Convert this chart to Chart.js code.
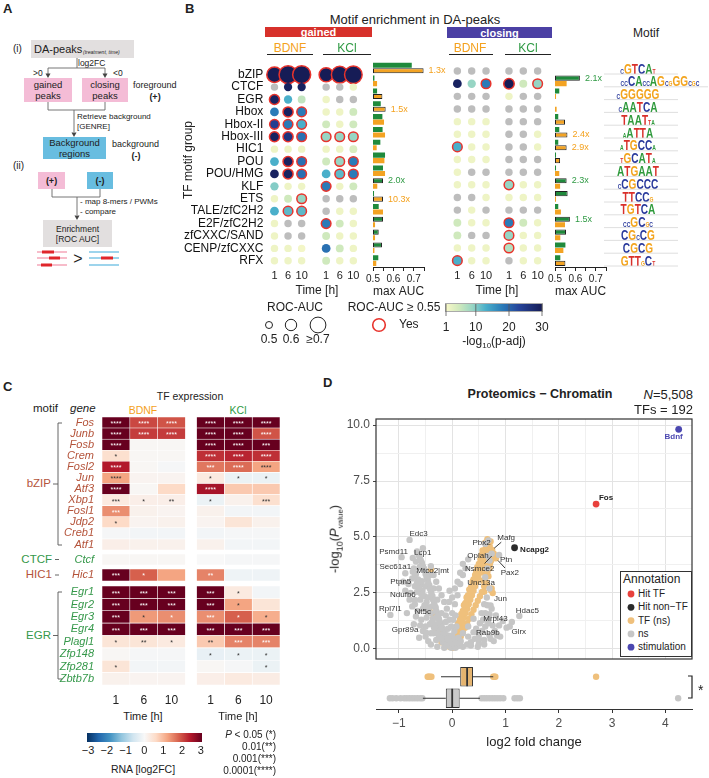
<!DOCTYPE html>
<html>
<head>
<meta charset="utf-8">
<title>Motif enrichment, TF expression and chromatin proteomics</title>
<script src="https://cdn.jsdelivr.net/npm/chart.js@4.4.1/dist/chart.umd.min.js"></script>
<style>
  body { margin: 0; background: #fff; }
  #fig { position: relative; width: 709px; height: 778px; overflow: hidden;
         font-family: "Liberation Sans", Arial, sans-serif; color: #222; }
  #fig canvas { position: absolute; }
  .t { position: absolute; white-space: nowrap; line-height: 1; }
  .rect { position: absolute; }
  .logo { position: absolute; display: flex; align-items: flex-end; font-weight: bold;
          transform-origin: 50% 100%; transform: translate(-50%, -100%) scale(0.72, 1.1); }
  .logo span { display: block; line-height: 0.74; }
  #lines { position: absolute; left: 0; top: 0; pointer-events: none; }
</style>
</head>
<body>
<div id="fig"></div>
<script>
// ---------- B: motif enrichment in DA-peaks ----------
const motifGroups = ["bZIP", "CTCF", "EGR", "Hbox", "Hbox-II", "Hbox-III", "HIC1", "POU",
  "POU/HMG", "KLF", "ETS", "TALE/zfC2H2", "E2F/zfC2H2", "zfCXXC/SAND", "CENP/zfCXXC", "RFX"];
const timeLabels = ["1", "6", "10"];

// -log10(p-adj), columns BDNF 1/6/10 h then KCl 1/6/10 h (0 = not significant)
const gainedP = [
  [30, 30, 30, 30, 30, 30], [0, 29, 29, 0, 0, 2], [29, 13, 6, 2, 0, 0], [18, 29, 18, 2, 2, 5],
  [24, 18, 13, 5, 2, 5], [29, 26, 19, 9, 9, 9], [2, 2, 2, 2, 2, 4], [13, 29, 19, 5, 9, 18],
  [29, 29, 19, 13, 12, 18], [10, 2, 2, 18, 2, 5], [2, 5, 9, 0, 0, 0], [13, 12, 12, 0, 2, 2],
  [2, 0, 0, 18, 5, 2], [2, 0, 0, 5, 2, 2], [2, 2, 1.5, 19, 5, 2], [2, 2, 2, 5, 2, 2]
];
const gainedAuc = [
  [0.69, 0.75, 0.75, 0.66, 0.72, 0.74], [0.51, 0.53, 0.53, 0.51, 0.51, 0.51],
  [0.57, 0.53, 0.52, 0.51, 0.51, 0.51], [0.54, 0.57, 0.56, 0.51, 0.51, 0.52],
  [0.56, 0.56, 0.56, 0.52, 0.51, 0.52], [0.57, 0.57, 0.56, 0.56, 0.56, 0.56],
  [0.51, 0.51, 0.51, 0.51, 0.51, 0.52], [0.54, 0.57, 0.56, 0.52, 0.56, 0.56],
  [0.54, 0.57, 0.56, 0.54, 0.56, 0.56], [0.53, 0.51, 0.51, 0.56, 0.51, 0.52],
  [0.51, 0.52, 0.56, 0.51, 0.51, 0.51], [0.54, 0.56, 0.56, 0.51, 0.51, 0.51],
  [0.51, 0.51, 0.51, 0.56, 0.52, 0.51], [0.51, 0.51, 0.51, 0.52, 0.51, 0.51],
  [0.51, 0.51, 0.51, 0.54, 0.52, 0.51], [0.51, 0.51, 0.51, 0.52, 0.51, 0.51]
];
const closingP = [
  [0, 0, 0, 0, 0, 0], [29, 9, 18, 30, 5, 9], [0, 0, 0, 2, 0, 0], [0, 0, 0, 0, 0, 0],
  [2, 2, 2, 0, 0, 0], [2, 2, 2, 0, 0, 2], [13, 2, 2, 0, 0, 2], [2, 2, 2, 0, 0, 0],
  [2, 0, 0, 0, 0, 0], [2, 2, 2, 9, 2, 2], [0, 0, 2, 2, 2, 2], [0, 2, 0, 0, 0, 0],
  [5, 2, 2, 18, 5, 2], [5, 0, 0, 9, 2, 2], [2, 2, 2, 7, 2, 2], [13, 2, 2, 0, 2, 2]
];
const closingAuc = [
  [0.51, 0.51, 0.51, 0.51, 0.51, 0.51], [0.54, 0.53, 0.56, 0.58, 0.52, 0.56],
  [0.51, 0.51, 0.51, 0.51, 0.51, 0.51], [0.51, 0.51, 0.51, 0.51, 0.51, 0.51],
  [0.51, 0.51, 0.51, 0.51, 0.51, 0.51], [0.51, 0.51, 0.51, 0.51, 0.51, 0.51],
  [0.56, 0.51, 0.51, 0.51, 0.51, 0.51], [0.51, 0.51, 0.51, 0.51, 0.51, 0.51],
  [0.51, 0.51, 0.51, 0.51, 0.51, 0.51], [0.51, 0.51, 0.51, 0.56, 0.51, 0.51],
  [0.51, 0.51, 0.51, 0.51, 0.51, 0.51], [0.51, 0.51, 0.51, 0.51, 0.51, 0.51],
  [0.52, 0.51, 0.51, 0.56, 0.52, 0.51], [0.52, 0.51, 0.51, 0.56, 0.51, 0.51],
  [0.51, 0.51, 0.51, 0.56, 0.51, 0.51], [0.56, 0.51, 0.51, 0.51, 0.51, 0.51]
];
// max AUC per motif group
const gainedMaxKcl = [0.69, 0.507, 0.52, 0.538, 0.546, 0.547, 0.536, 0.559, 0.549, 0.549, 0.505, 0.528, 0.549, 0.528, 0.544, 0.526];
const gainedMaxBdnf = [0.748, 0.52, 0.546, 0.562, 0.554, 0.559, 0.518, 0.556, 0.559, 0.521, 0.549, 0.549, 0.51, 0.51, 0.507, 0.516];
const closingMaxKcl = [0.5, 0.622, 0.521, 0.5, 0.516, 0.521, 0.516, 0.505, 0.505, 0.557, 0.562, 0.516, 0.573, 0.554, 0.551, 0.526];
const closingMaxBdnf = [0.5, 0.557, 0.505, 0.508, 0.549, 0.561, 0.557, 0.525, 0.521, 0.525, 0.505, 0.529, 0.549, 0.526, 0.541, 0.551];
const gainedBoxedKcl = ["KLF", "E2F/zfC2H2", "zfCXXC/SAND", "CENP/zfCXXC"];
const gainedBoxedBdnf = ["bZIP", "EGR", "Hbox", "ETS"];
const closingBoxedKcl = ["CTCF", "KLF", "ETS", "E2F/zfC2H2", "zfCXXC/SAND"];
const closingBoxedBdnf = ["Hbox-II", "Hbox-III", "HIC1", "POU", "RFX"];
const gainedFold = [["bZIP", "BDNF", "1.3x"], ["Hbox", "BDNF", "1.5x"], ["KLF", "KCl", "2.0x"], ["ETS", "BDNF", "10.3x"]];
const closingFold = [["CTCF", "KCl", "2.1x"], ["Hbox-III", "BDNF", "2.4x"], ["HIC1", "BDNF", "2.9x"], ["KLF", "KCl", "2.3x"], ["E2F/zfC2H2", "KCl", "1.5x"]];
const motifLogos = ["cGTCAt", "ccCAccAGcgGGcgc", "cGGGGG", "cAATCA", "TAATta", "aATTA", "aTGCCa", "tGCATa",
  "ATGAAT", "cCGCCC", "TTCCg", "TGTCA", "ccGCgc", "CGcCG", "CGCG", "GTTgCt"];

// ---------- C: TF expression (RNA log2FC), BDNF 1/6/10 h then KCl 1/6/10 h ----------
const bzipGenes = ["Fos", "Junb", "Fosb", "Crem", "Fosl2", "Jun", "Atf3", "Xbp1", "Fosl1", "Jdp2", "Creb1", "Atf1"];
const bzipFC = [
  [3, 2.0, 1.9, 3, 3, 3], [3, 2.1, 2.1, 3, 3, 1.9], [3, 0.05, 0.05, 3, 3, 3], [0.5, 0.05, 0.05, 2.2, 2.3, 2.2],
  [2.4, 0.05, -0.05, 1.6, 1.7, 1.2], [1.2, 0.1, 0.1, 0.3, -0.2, -0.2], [3, 0.05, 0.6, 2.5, 0.8, 0.8],
  [0.3, 0.2, 0.2, -0.2, 0.15, 0.5], [1.4, 0.15, 0.1, 0.15, -0.1, -0.1], [0.6, 0.1, 0.15, 0.1, 0.4, 0.15],
  [-0.05, -0.1, -0.1, -0.1, -0.05, -0.05], [0.2, 0.15, 0.15, 0.15, -0.1, -0.1]
];
const bzipStars = [
  [4, 4, 4, 4, 4, 4], [4, 4, 4, 4, 4, 4], [4, 0, 0, 4, 4, 3], [1, 0, 0, 4, 4, 4], [4, 0, 0, 3, 4, 4], [4, 0, 0, 1, 1, 1],
  [4, 0, 0, 4, 0, 0], [3, 1, 2, 1, 0, 3], [3, 0, 0, 0, 0, 0], [1, 0, 0, 0, 0, 0], [0, 0, 0, 0, 0, 0], [0, 0, 0, 0, 0, 0]
];
const ctcfGenes = ["Ctcf"];
const ctcfFC = [[0.05, 0.05, 0.05, 0, -0.05, -0.05]];
const ctcfStars = [[0, 0, 0, 0, 0, 0]];
const hic1Genes = ["Hic1"];
const hic1FC = [[3, 1.8, 1.2, 1.5, -0.15, -0.15]];
const hic1Stars = [[3, 1, 0, 2, 0, 0]];
const egrGenes = ["Egr1", "Egr2", "Egr3", "Egr4", "Plagl1", "Zfp148", "Zfp281", "Zbtb7b"];
const egrFC = [
  [3, 3, 3, 3, 0.3, -0.1], [3, 3, 3, 3, 1.2, 0.4], [3, 1.3, 1.4, 1.4, 1.8, 1.1], [3, 3, 3, 3, 3, 3],
  [0.4, 0.4, 0.3, 0.8, 1.5, 1.5], [0.05, -0.05, -0.05, -0.25, -0.2, -0.2], [0.4, -0.1, -0.1, 0.05, -0.05, -0.2],
  [0.15, 0.1, 0.1, 0.2, 0.3, 0.25]
];
const egrStars = [
  [3, 3, 3, 3, 1, 0], [3, 3, 3, 3, 1, 0], [3, 1, 1, 3, 1, 1], [3, 3, 3, 3, 3, 3],
  [1, 2, 1, 2, 3, 3], [0, 0, 0, 1, 1, 1], [1, 0, 0, 0, 0, 1], [0, 0, 0, 0, 0, 0]
];

// ---------- D: proteomics, chromatin (log2FC, -log10 P) ----------
const nsPoints = [
  [-0.02, 0.05], [-0.06, 0.2], [-0.1, 0.35], [-0.13, 0.55], [-0.16, 0.75], [-0.19, 0.95], [-0.22, 1.15],
  [-0.25, 1.35], [-0.28, 1.6], [-0.31, 1.85], [-0.34, 2.1], [-0.37, 2.35], [-0.4, 2.6], [-0.43, 2.85],
  [-0.46, 3.1], [-0.5, 3.35], [-0.53, 3.6], [-0.57, 3.85], [-0.61, 4.1], [-0.66, 4.35],
  [-0.1, 0.15], [-0.16, 0.4], [-0.22, 0.65], [-0.27, 0.9], [-0.32, 1.1], [-0.36, 1.35], [-0.4, 1.6],
  [-0.44, 1.85], [-0.48, 2.1], [-0.52, 2.35], [-0.56, 2.6], [-0.6, 2.85], [-0.64, 3.1], [-0.68, 3.35], [-0.72, 3.6],
  [-0.3, 0.4], [-0.4, 0.7], [-0.5, 1.0], [-0.58, 1.3], [-0.65, 1.7], [-0.7, 2.0], [-0.78, 2.5], [-0.82, 2.9],
  [-0.62, 0.5], [-0.72, 1.1], [-0.85, 1.6], [-0.45, 0.35], [-0.55, 0.8],
  [-0.05, 0.3], [-0.08, 0.6], [-0.18, 0.3], [-0.25, 0.55], [-0.35, 0.7], [-0.42, 1.1], [-0.48, 1.4],
  [-0.55, 1.8], [-0.6, 2.2], [-0.66, 2.55], [-0.7, 2.8], [-0.75, 3.15], [-0.68, 3.9], [-0.55, 4.5],
  [-0.5, 2.8], [-0.45, 2.3], [-0.38, 1.9], [-0.3, 1.4], [-0.2, 1.6], [-0.12, 1.5], [-0.28, 2.2],
  [-0.35, 2.7], [-0.42, 3.3],
  [-0.04, 0.12], [-0.09, 0.45], [-0.14, 0.7], [-0.18, 0.9], [-0.21, 1.05], [-0.24, 1.25], [-0.27, 1.45],
  [-0.3, 1.7], [-0.33, 1.95], [-0.36, 2.2], [-0.39, 2.45], [-0.42, 2.7], [-0.45, 2.95], [-0.48, 3.2],
  [-0.51, 3.5], [-0.55, 3.7], [-0.59, 3.95], [-0.63, 4.2], [-0.2, 0.45], [-0.28, 0.7], [-0.34, 0.95],
  [-0.38, 1.2], [-0.46, 1.65], [-0.52, 1.95], [-0.58, 2.45], [-0.62, 2.7], [-0.66, 2.95], [-0.7, 3.25],
  [-0.74, 3.45], [-0.5, 0.55], [-0.6, 1.05], [-0.68, 1.45], [-0.75, 1.9], [-0.8, 2.2], [-0.88, 2.6],
  [-0.92, 3.0], [-0.4, 0.2], [-0.28, 0.1], [-0.15, 0.05],
  [0.02, 0.15], [0.06, 0.05], [0.1, 0.12], [0.14, 0.25], [-0.04, 0.4], [0.0, 0.6], [0.04, 0.8], [0.08, 1.0],
  [-0.08, 0.9], [-0.12, 1.2], [-0.05, 1.3], [0.0, 1.6], [-0.1, 1.8], [-0.15, 2.1], [-0.2, 2.4], [-0.25, 2.7],
  [0.05, 2.0], [0.1, 2.4], [-0.05, 2.6], [-0.3, 3.0], [-0.35, 3.3], [0.15, 2.9], [0.2, 3.3], [-0.4, 3.7],
  [0.25, 3.6], [0.3, 4.0],
  [0.0, 0.25], [0.04, 0.45], [0.08, 0.3], [0.12, 0.5], [0.16, 0.35], [-0.02, 1.0], [0.02, 1.3], [0.06, 1.5],
  [-0.06, 2.1], [0.0, 2.3], [0.05, 2.7], [0.1, 3.0], [0.15, 3.4], [0.2, 3.8],
  [0.2, 0.1], [0.28, 0.2], [0.35, 0.3], [0.42, 0.45], [0.5, 0.6], [0.56, 0.8], [0.62, 1.0], [0.66, 1.3],
  [0.7, 1.55], [0.74, 1.8], [0.5, 0.25], [0.6, 0.4], [0.7, 0.6], [0.8, 0.8], [0.88, 1.05], [0.95, 1.25],
  [1.02, 0.95], [1.12, 1.2], [0.9, 0.55], [0.78, 0.35], [0.55, 1.6], [0.6, 2.0], [0.65, 2.3], [0.7, 2.7],
  [0.62, 3.2], [0.66, 3.6], [0.7, 3.95], [0.74, 4.25], [0.62, 4.7], [0.68, 4.85],
  [0.3, 0.55], [0.4, 0.75], [0.45, 0.9], [0.52, 1.15], [0.58, 1.3], [0.62, 1.6], [0.66, 1.95], [0.4, 1.35],
  [0.3, 1.0], [0.2, 0.7], [0.35, 0.15], [0.48, 0.1], [0.6, 0.2], [0.72, 0.45], [0.84, 0.6], [0.76, 1.05], [0.82, 1.5]
];
const tfPoints = [
  [0.01, 0.05], [0.04, 0.2], [0.07, 0.4], [0.1, 0.6], [0.13, 0.8], [0.16, 1.0], [0.19, 1.2], [0.22, 1.4],
  [0.25, 1.6], [0.28, 1.8], [0.31, 2.0], [0.34, 2.2], [0.37, 2.4], [0.4, 2.6], [0.43, 2.8], [0.46, 3.0],
  [0.49, 3.2], [0.52, 3.4], [0.55, 3.6], [0.58, 3.8], [0.61, 4.0], [0.64, 4.2], [0.67, 4.4], [0.7, 4.6], [0.72, 4.8],
  [0.08, 0.15], [0.12, 0.35], [0.16, 0.55], [0.2, 0.75], [0.24, 0.95], [0.28, 1.15], [0.32, 1.35], [0.36, 1.55],
  [0.4, 1.75], [0.44, 1.95], [0.48, 2.15], [0.52, 2.35], [0.56, 2.55], [0.6, 2.8], [0.58, 3.05], [0.62, 3.35],
  [0.64, 3.7], [0.68, 4.0],
  [0.05, 0.6], [0.1, 0.95], [0.15, 1.35], [0.2, 1.7], [0.25, 2.05], [0.3, 2.4], [0.35, 2.75], [0.4, 3.1],
  [0.45, 3.45], [0.5, 3.8], [0.55, 4.2],
  [0.03, 0.35], [0.06, 0.75], [0.11, 1.15], [0.17, 1.55], [0.22, 1.95], [0.27, 2.3], [0.32, 2.65], [0.38, 3.0],
  [0.43, 3.3], [0.47, 3.65], [0.53, 4.0], [0.57, 4.4], [0.62, 4.75], [0.66, 4.9], [0.6, 2.55], [0.65, 2.9],
  [0.68, 3.25], [0.7, 3.6], [0.73, 3.95], [0.76, 4.15],
  [0.09, 0.8], [0.14, 1.2], [0.19, 1.6], [0.24, 2.0], [0.29, 2.35], [0.34, 2.6], [0.39, 2.9], [0.44, 3.2],
  [0.5, 3.55], [0.54, 3.85], [0.59, 4.2], [0.63, 4.5], [0.68, 4.75], [0.62, 3.05], [0.66, 3.45], [0.71, 3.8],
  [0.74, 4.05], [0.7, 4.3], [0.05, 0.5], [0.12, 0.2],
  [-0.05, 0.1], [-0.1, 0.5], [-0.18, 0.6], [-0.25, 1.0], [-0.3, 0.8], [-0.4, 3.55], [-0.2, 0.3],
  [-0.08, 0.25], [-0.14, 0.4], [-0.22, 0.85], [-0.35, 1.45],
  [0.76, 2.5], [0.74, 2.7]
];
// gene, log2FC, -log10 P, group
const labeledGenes = [
  ["Edc3", -0.80, 4.87, "ns"], ["Psmd11", -0.95, 4.10, "ns"], ["Lcp1", -0.74, 4.06, "ns"],
  ["Sec61a1", -0.88, 3.38, "ns"], ["Mtco2|mt", -0.61, 3.66, "ns"], ["Ptpn5", -0.57, 3.02, "ns"],
  ["Ndufb6", -0.70, 2.19, "ns"], ["Rpl7l1", -1.16, 1.52, "ns"], ["Nt5c", -0.42, 1.67, "tf"],
  ["Gpr89a", -0.49, 0.73, "ns"], ["Unc13a", 0.73, 2.62, "tf"], ["Jun", 0.72, 1.94, "ns"],
  ["Hdac5", 1.26, 1.47, "ns"], ["Mrpl43", 0.68, 1.15, "ns"], ["Rab9b", 0.50, 0.43, "ns"],
  ["Glrx", 1.08, 1.00, "ns"], ["Mafg", 0.75, 4.42, "tf"], ["Pbx2", 0.70, 4.55, "tf"],
  ["Oplah", 0.67, 4.15, "ns"], ["Ptn", 0.88, 4.20, "ns"], ["Nsmce2", 0.78, 4.25, "tf"],
  ["Pax2", 0.82, 4.05, "tf"]
];
const hitTf = ["Fos", 2.70, 6.47];
const hitNonTf = ["Ncapg2", 1.17, 4.52];
const stimulation = ["Bdnf", 4.25, 9.81];
// boxplot of log2FC: TF vs ns
const boxGroups = ["TF", "ns"];
const boxQ1 = [0.15, -0.12];
const boxMedian = [0.28, 0.0];
const boxQ3 = [0.39, 0.14];
const boxLo = [-0.21, -0.55];
const boxHi = [0.77, 0.52];
const tfOutliers = [-0.46, -0.44, -0.42, -0.39, 0.77, 0.79, 0.81, 2.7];
const nsOutliers = [-1.17, -1.12, -1.05, -0.97, -0.9, -0.85, -0.8, -0.75, -0.7, -0.65, -0.6, -0.56,
  0.55, 0.6, 0.65, 0.7, 0.75, 0.8, 0.85, 0.9, 0.96, 1.17, 1.22, 1.27, 4.24];

// ---------- styling ----------
const fig = document.getElementById('fig');
const FONT = '"Liberation Sans", Arial, sans-serif';
Chart.defaults.font.family = FONT;
Chart.defaults.color = '#222';
Chart.defaults.animation = false;
Chart.defaults.responsive = false;
Chart.defaults.events = [];
Chart.defaults.plugins.legend.display = false;
Chart.defaults.plugins.tooltip.enabled = false;

const ORANGE = '#f3a323', GREEN = '#1f8a3c', TXT_ORANGE = '#f4a11d', TXT_GREEN = '#2f9a44';
const NS_DOT = '#bdbdbd', RING = '#e8332c';
const NS_COL = '#c6c6c6', TF_COL = '#efc07c';
const GENE_BROWN = '#b4533a', GENE_GREEN = '#35984a';
// motif rows of panel B
const ROW0 = 68, ROWH = 12.8, B_TOP = 58;
const B_PAD = ROW0 - ROWH / 2 - B_TOP;
const B_AREA = ROWH * motifGroups.length;

const hex = h => [1, 3, 5].map(i => parseInt(h.slice(i, i + 2), 16));
const rgbStr = c => `rgb(${c.map(Math.round).join(',')})`;
function ramp(stops, v) {
  if (v <= stops[0][0]) return rgbStr(stops[0][1]);
  for (let i = 1; i < stops.length; i++) {
    const [v1, c1] = stops[i];
    if (v <= v1) {
      const [v0, c0] = stops[i - 1];
      const t = (v - v0) / (v1 - v0);
      return rgbStr(c0.map((a, k) => a + (c1[k] - a) * t));
    }
  }
  return rgbStr(stops[stops.length - 1][1]);
}
const ylgnbuStops = [[1, '#f8f8c8'], [5, '#cfe9bd'], [9, '#97d5c4'], [13, '#4aafca'], [18, '#2a7bb8'],
  [23, '#26449a'], [30, '#161c56']].map(([v, h]) => [v, hex(h)]);
const rdbuStops = [[-3, '#053061'], [-2.4, '#2166ac'], [-1.8, '#4393c3'], [-1.2, '#92c5de'], [-0.6, '#d1e5f0'],
  [0, '#f8f8f8'], [0.6, '#fddbc7'], [1.2, '#f4a582'], [1.8, '#d6604d'], [2.4, '#b2182b'], [3, '#67001f']]
  .map(([v, h]) => [v, hex(h)]);
const aucRadius = a => 3.5 + (Math.min(a, 0.75) - 0.5) * 22;

function makeCanvas(left, top, w, h) {
  const c = document.createElement('canvas');
  c.width = w; c.height = h;
  c.style.left = left + 'px'; c.style.top = top + 'px';
  fig.appendChild(c);
  return c;
}
function txt(html, x, y, size, opt = {}) {
  const d = document.createElement('div');
  d.className = 't';
  d.innerHTML = html;
  d.style.fontSize = size + 'px';
  d.style.left = x + 'px';
  if (opt.rotate) {
    d.style.top = y + 'px';
    d.style.transform = 'translate(-50%, -50%) rotate(-90deg)';
  } else {
    d.style.top = (y - size / 2) + 'px';
    const tx = opt.align === 'center' ? '-50%' : opt.align === 'right' ? '-100%' : '0';
    d.style.transform = `translateX(${tx})`;
  }
  if (opt.color) d.style.color = opt.color;
  if (opt.bold) d.style.fontWeight = 'bold';
  if (opt.italic) d.style.fontStyle = 'italic';
  fig.appendChild(d);
  return d;
}
function rect(x, y, w, h, bg, extra = '') {
  const d = document.createElement('div');
  d.className = 'rect';
  d.style.cssText += `left:${x}px;top:${y}px;width:${w}px;height:${h}px;background:${bg};${extra}`;
  fig.appendChild(d);
  return d;
}
const svgParts = [];
const path = (d, stroke = '#666', w = 0.9) => svgParts.push(`<path d="${d}" fill="none" stroke="${stroke}" stroke-width="${w}"/>`);
const arrow = (x, y) => svgParts.push(`<polygon points="${x - 2.5},${y - 4.5} ${x + 2.5},${y - 4.5} ${x},${y}" fill="#444"/>`);
const circ = (cx, cy, r, fill, stroke = 'none', w = 0) =>
  svgParts.push(`<circle cx="${cx}" cy="${cy}" r="${r}" fill="${fill}" stroke="${stroke}" stroke-width="${w}"/>`);

// row labels drawn next to a category y scale (keeps the chart area fixed)
function rowLabels(labels, color, font, gap) {
  return {
    id: 'rowLabels',
    afterDraw(chart) {
      const { ctx, chartArea, scales: { y } } = chart;
      ctx.save();
      ctx.font = font; ctx.textAlign = 'right'; ctx.textBaseline = 'middle';
      ctx.fillStyle = color;
      labels.forEach((lab, i) => ctx.fillText(lab, chartArea.left - gap, y.getPixelForValue(i)));
      ctx.restore();
    }
  };
}

// ---------- B: dot charts ----------
function dotChart(left, width, padLeft, pvals, aucs, xPos, xMin, xMax, withLabels) {
  const pts = [], fill = [], radius = [], ring = [], ringW = [];
  motifGroups.forEach((g, r) => xPos.forEach((xv, c) => {
    pts.push({ x: xv, y: g });
    fill.push(pvals[r][c] > 0 ? ramp(ylgnbuStops, pvals[r][c]) : NS_DOT);
    radius.push(aucRadius(aucs[r][c]));
    const hit = aucs[r][c] >= 0.55;
    ring.push(hit ? RING : 'rgba(0,0,0,0)');
    ringW.push(hit ? 1.5 : 0);
  }));
  return new Chart(makeCanvas(left, B_TOP, width, Math.ceil(B_PAD + B_AREA + 14)), {
    type: 'scatter',
    data: { datasets: [{ data: pts, pointBackgroundColor: fill, pointRadius: radius,
      pointBorderColor: ring, pointBorderWidth: ringW, clip: false }] },
    options: {
      layout: { padding: { top: B_PAD, left: padLeft, right: 4, bottom: 0 } },
      scales: {
        x: { type: 'linear', min: xMin, max: xMax,
             afterBuildTicks: s => { s.ticks = xPos.map(v => ({ value: v })); },
             ticks: { callback: (v, i) => timeLabels[i % 3], font: { size: 11 }, padding: 2,
                      autoSkip: false, maxRotation: 0, color: '#222' },
             grid: { display: false, drawTicks: false }, border: { display: false },
             afterFit: s => { s.height = 14; } },
        y: { type: 'category', labels: motifGroups, offset: true, display: false }
      }
    },
    plugins: withLabels ? [rowLabels(motifGroups, '#111', '12px ' + FONT, 3)] : []
  });
}
dotChart(178, 194, 88.3, gainedP, gainedAuc, [0, 1, 2, 3.8, 4.8, 5.8], -0.6, 6.4, true);
dotChart(442, 111, 0.6, closingP, closingAuc, [0, 1, 2, 3.6, 4.6, 5.6], -0.6, 6.2, false);

// ---------- B: max AUC bars ----------
function aucBars(left, width, padR, kcl, bdnf, boxedKcl, boxedBdnf, folds) {
  const mk = (vals, boxed, color) => ({
    data: vals.map(v => [0.5, v]),
    backgroundColor: color,
    borderColor: '#222',
    borderWidth: motifGroups.map(g => boxed.includes(g) ? 1 : 0),
    borderSkipped: false,
    barPercentage: 0.92, categoryPercentage: 0.86
  });
  const foldLabels = {
    id: 'foldLabels',
    afterDatasetsDraw(chart) {
      const ctx = chart.ctx;
      ctx.save();
      ctx.font = '9px ' + FONT;
      ctx.textBaseline = 'middle';
      folds.forEach(([group, series, label]) => {
        const ds = series === 'KCl' ? 0 : 1;
        const el = chart.getDatasetMeta(ds).data[motifGroups.indexOf(group)];
        ctx.fillStyle = ds === 0 ? TXT_GREEN : TXT_ORANGE;
        ctx.fillText(label, el.x + 5, el.y);
      });
      ctx.restore();
    }
  };
  return new Chart(makeCanvas(left, B_TOP, width, Math.ceil(B_PAD + B_AREA + 32)), {
    type: 'bar',
    data: { labels: motifGroups, datasets: [mk(kcl, boxedKcl, GREEN), mk(bdnf, boxedBdnf, ORANGE)] },
    options: {
      indexAxis: 'y',
      layout: { padding: { top: B_PAD, left: 14, right: padR, bottom: 0 } },
      scales: {
        y: { type: 'category', display: false },
        x: { type: 'linear', min: 0.5, max: 0.75,
             afterBuildTicks: s => { s.ticks = [0.5, 0.55, 0.6, 0.65, 0.7, 0.75].map(v => ({ value: v })); },
             ticks: { callback: v => [0.5, 0.6, 0.7].some(t => Math.abs(t - v) < 1e-6) ? v.toFixed(1) : '',
                      font: { size: 10 }, padding: 2, autoSkip: false, maxRotation: 0, color: '#222' },
             grid: { display: true, drawOnChartArea: false, drawTicks: true, tickLength: 4, color: '#222' },
             border: { display: true, color: '#222' },
             title: { display: true, text: 'max AUC', font: { size: 12 }, color: '#222', padding: 0 },
             afterFit: s => { s.height = 32; } }
      }
    },
    plugins: [foldLabels]
  });
}
aucBars(359, 91, 26, gainedMaxKcl, gainedMaxBdnf, gainedBoxedKcl, gainedBoxedBdnf, gainedFold);
aucBars(541, 77, 12, closingMaxKcl, closingMaxBdnf, closingBoxedKcl, closingBoxedBdnf, closingFold);

// ---------- C: heatmaps ----------
const HEAT_GAP = 0.4;
function starPlugin(fc, stars) {
  return {
    id: 'stars',
    afterDatasetsDraw(chart) {
      const ctx = chart.ctx;
      ctx.save();
      ctx.font = '7px ' + FONT;
      ctx.textAlign = 'center';
      ctx.textBaseline = 'middle';
      chart.data.datasets.forEach((ds, di) => {
        if (ds.column === undefined) return;
        chart.getDatasetMeta(di).data.forEach((el, gi) => {
          const n = stars[gi][ds.column];
          if (!n) return;
          ctx.fillStyle = Math.abs(fc[gi][ds.column]) >= 1.35 ? '#fff' : '#333';
          ctx.fillText('*'.repeat(n), (el.x + el.base) / 2, el.y + 1.5);
        });
      });
      ctx.restore();
    }
  };
}
function heatChart(top, areaHeight, genes, fc, stars, geneColor, withTicks) {
  const columns = [0, 1, 2, -1, 3, 4, 5];
  const datasets = columns.map(c => c < 0
    ? { data: genes.map(() => HEAT_GAP), backgroundColor: 'rgba(0,0,0,0)', borderWidth: 0,
        barPercentage: 1, categoryPercentage: 1 }
    : { data: genes.map(() => 1), backgroundColor: fc.map(r => ramp(rdbuStops, r[c])),
        borderColor: '#ffffff', borderWidth: 0.6, borderSkipped: false,
        barPercentage: 1, categoryPercentage: 1, column: c });
  const colCenters = [0.5, 1.5, 2.5, 3.5 + HEAT_GAP, 4.5 + HEAT_GAP, 5.5 + HEAT_GAP];
  const axisH = withTicks ? 22 : 0;
  return new Chart(makeCanvas(55, top, 235, areaHeight + axisH), {
    type: 'bar',
    data: { labels: genes, datasets },
    options: {
      indexAxis: 'y',
      layout: { padding: { left: 47, right: 10, top: 0, bottom: 0 } },
      scales: {
        x: { type: 'linear', stacked: true, min: 0, max: 6 + HEAT_GAP, display: withTicks,
             afterBuildTicks: s => { s.ticks = colCenters.map(v => ({ value: v })); },
             ticks: { callback: (v, i) => timeLabels[i % 3], font: { size: 12 }, padding: 8,
                      autoSkip: false, maxRotation: 0, color: '#222' },
             grid: { display: false, drawTicks: false }, border: { display: false },
             afterFit: s => { s.height = axisH; } },
        y: { type: 'category', stacked: true, offset: true, display: false }
      }
    },
    plugins: [starPlugin(fc, stars), rowLabels(genes, geneColor, 'italic 11px ' + FONT, 8)]
  });
}
heatChart(417, 133, bzipGenes, bzipFC, bzipStars, GENE_BROWN, false);
heatChart(554, 11, ctcfGenes, ctcfFC, ctcfStars, GENE_GREEN, false);
heatChart(569, 12, hic1Genes, hic1FC, hic1Stars, GENE_BROWN, false);
heatChart(586, 99, egrGenes, egrFC, egrStars, GENE_GREEN, true);

// ---------- D: volcano ----------
const frame = {
  id: 'frame',
  afterDraw(chart) {
    const { ctx, chartArea: a } = chart;
    ctx.save();
    ctx.strokeStyle = '#333'; ctx.lineWidth = 1.2;
    ctx.strokeRect(a.left, a.top, a.right - a.left, a.bottom - a.top);
    ctx.restore();
  }
};
// label offsets in px from the point: [dx, dy, leader line]
const labelOffsets = {
  Edc3: [9, -6], Psmd11: [-8, -5], Lcp1: [10, -5], Sec61a1: [-10, -6], "Mtco2|mt": [13, 4], Ptpn5: [-21, 0],
  Ndufb6: [-12, -5], Rpl7l1: [0, -6], Nt5c: [-7, 0], Gpr89a: [-21, -3], Unc13a: [-10, -7], Jun: [10, -7],
  Hdac5: [8, -5], Mrpl43: [7, -4], Rab9b: [9, -7], Glrx: [9, 5], Mafg: [14, -12, true], Pbx2: [-8, -4],
  Oplah: [-10, 0], Ptn: [7, 5], Nsmce2: [-14, 15, true], Pax2: [14, 15, true],
  Fos: [10, -6], Ncapg2: [20, 2], Bdnf: [-5, 7]
};
const geneLabels = {
  id: 'geneLabels',
  afterDatasetsDraw(chart) {
    const { ctx, scales: { x, y } } = chart;
    const all = labeledGenes.map(g => [g[0], g[1], g[2], false, '#333'])
      .concat([[hitTf[0], hitTf[1], hitTf[2], true, '#222'], [hitNonTf[0], hitNonTf[1], hitNonTf[2], true, '#222'],
               [stimulation[0], stimulation[1], stimulation[2], true, '#4b47b0']]);
    ctx.save();
    ctx.textAlign = 'center'; ctx.textBaseline = 'middle';
    all.forEach(([name, gx, gy, bold, color]) => {
      const [dx, dy, lead] = labelOffsets[name];
      const px = x.getPixelForValue(gx), py = y.getPixelForValue(gy);
      if (lead) {
        ctx.strokeStyle = '#222'; ctx.lineWidth = 0.9;
        ctx.beginPath();
        ctx.moveTo(px + dx * 0.15, py + dy * 0.15);
        ctx.lineTo(px + dx * 0.65, py + dy * 0.65);
        ctx.stroke();
      }
      ctx.font = (bold ? 'bold ' : '') + '8px ' + FONT;
      ctx.fillStyle = color;
      ctx.fillText(name, px + dx, py + dy);
    });
    ctx.restore();
  }
};
const toXY = arr => arr.map(p => ({ x: p[0], y: p[1] }));
new Chart(makeCanvas(318, 408, 382, 262), {
  type: 'scatter',
  data: {
    datasets: [
      { data: toXY(nsPoints).concat(labeledGenes.filter(g => g[3] === 'ns').map(g => ({ x: g[1], y: g[2] }))),
        backgroundColor: NS_COL, pointRadius: 3.2, borderWidth: 0 },
      { data: toXY(tfPoints).concat(labeledGenes.filter(g => g[3] === 'tf').map(g => ({ x: g[1], y: g[2] }))),
        backgroundColor: TF_COL, pointRadius: 3.2, borderWidth: 0 },
      { data: [{ x: hitNonTf[1], y: hitNonTf[2] }], backgroundColor: '#2a2a2a', pointRadius: 3.4, borderWidth: 0 },
      { data: [{ x: hitTf[1], y: hitTf[2] }], backgroundColor: '#e8413c', pointRadius: 3.4, borderWidth: 0 },
      { data: [{ x: stimulation[1], y: stimulation[2] }], backgroundColor: '#4b47b0', pointRadius: 3.4, borderWidth: 0 }
    ]
  },
  options: {
    layout: { padding: { top: 11, right: 8, bottom: 11, left: 0 } },
    scales: {
      x: { type: 'linear', min: -1.43, max: 4.5,
           afterBuildTicks: s => { s.ticks = [-1, -0.5, 0, 0.5, 1, 1.5, 2, 2.5, 3, 3.5, 4].map(v => ({ value: v })); },
           ticks: { display: false },
           grid: { color: ctx => ctx.tick && Number.isInteger(ctx.tick.value) ? '#e3e3e3' : '#f0f0f0', drawTicks: false },
           border: { display: false },
           afterFit: s => { s.height = 0; } },
      y: { type: 'linear', min: -0.45, max: 10.27,
           afterBuildTicks: s => { s.ticks = [0, 1.25, 2.5, 3.75, 5, 6.25, 7.5, 8.75, 10].map(v => ({ value: v })); },
           ticks: { callback: v => v % 2.5 === 0 ? v.toFixed(1) : '', font: { size: 12 }, color: '#4d4d4d',
                    padding: 3, autoSkip: false },
           grid: { color: ctx => ctx.tick && ctx.tick.value % 2.5 === 0 ? '#e3e3e3' : '#f0f0f0',
                   tickColor: ctx => ctx.tick && ctx.tick.value % 2.5 === 0 ? '#444' : 'rgba(0,0,0,0)',
                   tickLength: 3 },
           border: { display: false },
           afterFit: s => { s.width = 58; } }
    }
  },
  plugins: [frame, geneLabels]
});

// ---------- D: boxplot ----------
const boxWhiskers = {
  id: 'boxWhiskers',
  afterDatasetsDraw(chart) {
    const { ctx, scales: { x, y } } = chart;
    ctx.save();
    ctx.strokeStyle = '#333';
    boxGroups.forEach((g, i) => {
      const yc = y.getPixelForValue(i);
      ctx.lineWidth = 1;
      ctx.beginPath();
      ctx.moveTo(x.getPixelForValue(boxLo[i]), yc); ctx.lineTo(x.getPixelForValue(boxQ1[i]), yc);
      ctx.moveTo(x.getPixelForValue(boxQ3[i]), yc); ctx.lineTo(x.getPixelForValue(boxHi[i]), yc);
      ctx.stroke();
      const m = x.getPixelForValue(boxMedian[i]);
      ctx.lineWidth = 1.8;
      ctx.beginPath(); ctx.moveTo(m, yc - 9.5); ctx.lineTo(m, yc + 9.5); ctx.stroke();
    });
    ctx.restore();
  }
};
new Chart(makeCanvas(318, 662, 382, 92), {
  type: 'bar',
  data: {
    labels: boxGroups,
    datasets: [
      { type: 'bar', data: boxGroups.map((g, i) => [boxQ1[i], boxQ3[i]]), backgroundColor: ['#e5b46f', '#c9c9c9'],
        borderColor: '#333', borderWidth: 1, borderSkipped: false, barPercentage: 1, categoryPercentage: 0.9 },
      { type: 'scatter', data: tfOutliers.map(v => ({ x: v, y: 'TF' })), backgroundColor: TF_COL,
        pointRadius: 3.2, borderWidth: 0 },
      { type: 'scatter', data: nsOutliers.map(v => ({ x: v, y: 'ns' })), backgroundColor: NS_COL,
        pointRadius: 3.2, borderWidth: 0 }
    ]
  },
  options: {
    indexAxis: 'y',
    layout: { padding: { left: 58, right: 8, top: 3, bottom: 0 } },
    scales: {
      y: { type: 'category', display: false, offset: true },
      x: { type: 'linear', min: -1.43, max: 4.5,
           afterBuildTicks: s => { s.ticks = [-1, 0, 1, 2, 3, 4].map(v => ({ value: v })); },
           ticks: { callback: v => v < 0 ? '\u2212' + Math.abs(v) : String(v), font: { size: 12 }, color: '#4d4d4d',
                    padding: 3, autoSkip: false, maxRotation: 0 },
           grid: { display: true, drawOnChartArea: false, drawTicks: true, tickLength: 4, color: '#333' },
           border: { display: true, color: '#333', width: 1 },
           title: { display: true, text: 'log2 fold change', font: { size: 13 }, color: '#222',
                    padding: { top: 2, bottom: 4 } },
           afterFit: s => { s.height = 45; } }
    }
  },
  plugins: [boxWhiskers]
});

// ---------- A: workflow ----------
const PINK = '#f4bcd6', BLUE = '#68bde0', GREYBOX = '#e2dfdf';
txt('A', 3, 8, 13, { bold: true });
txt('(i)', 13, 49, 10);
rect(31, 40, 103, 18, GREYBOX);
txt('DA-peaks', 34, 49, 11);
txt('<i>(treatment, time)</i>', 83, 52, 5);
txt('log2FC', 78, 63, 8.5);
txt('&gt;0', 33, 73, 8.5);
txt('&lt;0', 113, 73, 8.5);
rect(24, 78, 48, 24, PINK);
txt('gained', 48, 85, 9.5, { align: 'center' });
txt('peaks', 48, 96, 9.5, { align: 'center' });
rect(82, 78, 46, 24, PINK);
txt('closing', 105, 85, 9.5, { align: 'center' });
txt('peaks', 105, 96, 9.5, { align: 'center' });
txt('foreground', 133, 85, 9);
txt('(+)', 155, 97, 9, { align: 'center', bold: true });
txt('Retrieve background', 77, 117, 8);
txt('[GENRE]', 77, 127, 8);
rect(43, 137, 63, 22, BLUE);
txt('Background', 74.5, 143, 9.5, { align: 'center' });
txt('regions', 74.5, 154, 9.5, { align: 'center' });
txt('background', 112, 144, 9);
txt('(-)', 136, 156, 9, { align: 'center', bold: true });
txt('(ii)', 13, 166, 10);
rect(38, 172, 27, 17, PINK);
txt('(+)', 51.5, 181, 9, { align: 'center', bold: true });
rect(87, 172, 26, 17, BLUE);
txt('(-)', 100, 181, 9, { align: 'center', bold: true });
txt('- map 8-mers / PWMs', 80, 202, 8);
txt('- compare', 80, 212, 8);
rect(43, 220, 69, 27, GREYBOX);
txt('Enrichment', 77.5, 229, 8.5, { align: 'center' });
txt('[ROC AUC]', 77.5, 239, 8.5, { align: 'center' });
txt('&gt;', 78, 259, 16, { align: 'center' });
path('M77 58 V68 M48 68 H105 M48 68 V74 M105 68 V74');
arrow(48, 78); arrow(105, 78);
path('M48 102 V110 H105 V102 M74 110 V132');
arrow(74, 137);
path('M52 189 V197 H100 V189 M77 197 V215');
arrow(77, 220);
[252, 258, 265].forEach(y => { path(`M37 ${y} H67`, '#f4a6b8', 1.5); path(`M89 ${y} H119`, '#7cc6e6', 1.5); });
path('M42 252 H54 M49 258 H60 M41 265 H52 M101 258 H113', '#e0262b', 3);

// ---------- B: headers, labels and legends ----------
const B_LEG = ROW0 + ROWH * 15;   // centre of the last motif row
txt('B', 185, 8, 13, { bold: true });
txt('Motif enrichment in DA-peaks', 415, 19, 13, { align: 'center' });
rect(265, 27, 107, 10, '#d7312b');
txt('gained', 318.5, 32.5, 11, { align: 'center', bold: true, color: '#fff' });
rect(447, 27, 105, 11, '#4b40a4');
txt('closing', 499.5, 33, 11, { align: 'center', bold: true, color: '#fff' });
txt('BDNF', 290, 48, 12, { align: 'center', color: TXT_ORANGE });
txt('KCl', 347, 48, 12, { align: 'center', color: TXT_GREEN });
txt('BDNF', 470, 48, 12, { align: 'center', color: TXT_ORANGE });
txt('KCl', 528, 48, 12, { align: 'center', color: TXT_GREEN });
path('M267 54.5 H313 M323 54.5 H371 M449 54.5 H493 M505 54.5 H551', '#222', 1);
txt('Motif', 646, 33, 12, { align: 'center' });
txt('TF motif group', 188, 160, 12, { rotate: true });
txt('Time [h]', 317, B_LEG + 30, 12, { align: 'center' });
txt('Time [h]', 497, B_LEG + 30, 12, { align: 'center' });

const LOGO_COL = { A: '#2f9a3c', C: '#2a3a9c', G: '#f3a41d', T: '#d9302b' };
motifLogos.forEach((m, r) => {
  const base = ROW0 + r * ROWH + 5.5;
  const d = document.createElement('div');
  d.className = 'logo';
  d.style.left = (r === 1 ? 660 : 638) + 'px';
  d.style.top = base + 'px';
  d.innerHTML = [...m].map(ch => {
    const u = ch.toUpperCase();
    return `<span style="color:${LOGO_COL[u]};font-size:${ch === u ? 14 : 7}px">${u}</span>`;
  }).join('');
  fig.appendChild(d);
  path(`M604 ${base + 0.5} H${r === 1 ? 708 : 678}`, '#d6d6d6', 0.8);
});

const LEG_Y = B_LEG + 47;
txt('ROC-AUC', 295, LEG_Y, 12, { align: 'center' });
circ(269, LEG_Y + 18, 3.5, '#fff', '#222', 1);
circ(291, LEG_Y + 18, 5.7, '#fff', '#222', 1);
circ(318, LEG_Y + 18, 7.9, '#fff', '#222', 1);
txt('0.5', 269, LEG_Y + 32, 12, { align: 'center' });
txt('0.6', 291, LEG_Y + 32, 12, { align: 'center' });
txt('\u22650.7', 318, LEG_Y + 32, 12, { align: 'center' });
txt('ROC-AUC \u2265 0.55', 394, LEG_Y, 12, { align: 'center' });
circ(379, LEG_Y + 18, 6.3, '#fff', RING, 1.6);
txt('Yes', 399, LEG_Y + 17, 12);
rect(446, LEG_Y - 3, 96, 7, `linear-gradient(to right, ${ylgnbuStops.map(([v, c]) => rgbStr(c) + ' ' + ((v - 1) / 29 * 100).toFixed(1) + '%').join(', ')})`, 'outline:0.5px solid #aaa;');
[[1, 446], [10, 475.8], [20, 509], [30, 542]].forEach(([v, x]) => {
  path(`M${x} ${LEG_Y - 3} V${LEG_Y + 9}`, '#555', 0.8);
  txt(String(v), x, LEG_Y + 20, 12, { align: 'center' });
});
txt('-log<sub style="font-size:8px">10</sub>(p-adj)', 494, LEG_Y + 34, 12, { align: 'center' });

// ---------- C: labels ----------
txt('C', 3, 386, 13, { bold: true });
txt('TF expression', 190, 396, 10.5, { align: 'center' });
txt('motif', 33, 409, 11.5);
txt('gene', 70, 409, 11.5, { italic: true });
txt('BDNF', 143, 410, 10.5, { align: 'center', color: TXT_ORANGE });
txt('KCl', 238, 410, 10.5, { align: 'center', color: TXT_GREEN });
txt('bZIP', 51, 484, 11.5, { align: 'right', color: GENE_BROWN });
txt('CTCF', 52, 559.5, 11.5, { align: 'right', color: GENE_GREEN });
txt('HIC1', 52, 575, 11.5, { align: 'right', color: GENE_BROWN });
txt('EGR', 51, 635.5, 11.5, { align: 'right', color: GENE_GREEN });
path('M62 423 H58 V545 H62 M53 484 H58 M62 592 H58 V679 H62 M53 635.5 H58', '#555', 0.9);
path('M55 559.5 H59 M55 575 H59', '#555', 0.9);
txt('Time [h]', 143, 716, 11, { align: 'center' });
txt('Time [h]', 238, 716, 11, { align: 'center' });
rect(87, 733, 115, 9, `linear-gradient(to right, ${rdbuStops.map(([v, c]) => rgbStr(c) + ' ' + ((v + 3) / 6 * 100).toFixed(1) + '%').join(', ')})`);
[-3, -2, -1, 0, 1, 2, 3].forEach((v, i) => {
  const x = 88 + i * 18.8;
  txt(v < 0 ? '\u2212' + Math.abs(v) : String(v), x, 750, 11, { align: 'center' });
});
txt('RNA [log2FC]', 143, 769, 10.5, { align: 'center' });
txt('<i>P</i> &lt; 0.05 (*)', 276, 735, 10, { align: 'right' });
txt('0.01(**)', 276, 747, 10, { align: 'right' });
txt('0.001(***)', 276, 759, 10, { align: 'right' });
txt('0.0001(****)', 276, 771, 10, { align: 'right' });

// ---------- D: labels and legend ----------
txt('D', 323, 382, 13, { bold: true });
txt('Proteomics \u2212 Chromatin', 540, 394, 12.5, { align: 'center', bold: true });
txt('<i>N</i>=5,508', 693, 394, 13, { align: 'right' });
txt('TFs = 192', 693, 409, 13, { align: 'right' });
txt('-log<sub style="font-size:9px">10</sub>(<i>P</i><sub style="font-size:8px">value</sub>)', 336, 539, 13, { rotate: true });
rect(620, 571, 70, 84, '#fff', 'border:1.5px solid #333;');
txt('Annotation', 623, 579, 12);
[['Hit TF', '#e8413c'], ['Hit non\u2212TF', '#2a2a2a'], ['TF (ns)', TF_COL], ['ns', NS_COL], ['stimulation', '#4b47b0']]
  .forEach(([name, col], i) => {
    const y = 594 + i * 13.3;
    circ(631, y, 3.4, col);
    txt(name, 638, y, 10);
  });
path('M688 676 H692 V698 H688', '#222', 1.2);
txt('*', 698, 690, 14);

fig.insertAdjacentHTML('beforeend', `<svg id="lines" width="709" height="778">${svgParts.join('')}</svg>`);
</script>
</body>
</html>
